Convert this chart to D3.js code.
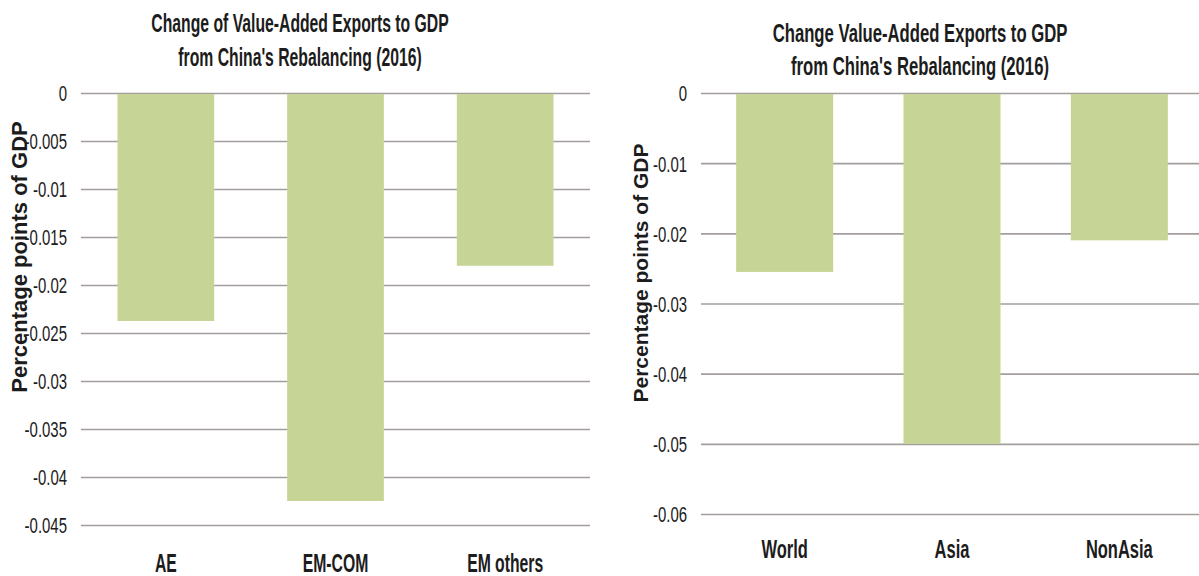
<!DOCTYPE html>
<html>
<head>
<meta charset="utf-8">
<script src="https://cdn.jsdelivr.net/npm/d3@7"></script>
<style>
  html, body { margin: 0; padding: 0; background: #fff; }
  svg { display: block; }
  text { font-family: "Liberation Sans", Arial, sans-serif; }
</style>
</head>
<body>
<svg id="chart" width="1199" height="576"></svg>
<script>
// Left panel: by country group
const groupCategories = ["AE", "EM-COM", "EM others"];
const groupValues = [-0.02375, -0.0425, -0.018];
const groupTicks = [0, -0.005, -0.01, -0.015, -0.02, -0.025, -0.03, -0.035, -0.04, -0.045];
const groupTickLabels = ["0", "-0.005", "-0.01", "-0.015", "-0.02", "-0.025", "-0.03", "-0.035", "-0.04", "-0.045"];
const groupTitle = ["Change of Value-Added Exports to GDP", "from China's Rebalancing (2016)"];

// Right panel: by region
const regionCategories = ["World", "Asia", "NonAsia"];
const regionValues = [-0.0255, -0.050, -0.021];
const regionTicks = [0, -0.01, -0.02, -0.03, -0.04, -0.05, -0.06];
const regionTickLabels = ["0", "-0.01", "-0.02", "-0.03", "-0.04", "-0.05", "-0.06"];
const regionTitle = ["Change Value-Added Exports to GDP", "from China's Rebalancing (2016)"];

const yAxisTitle = "Percentage points of GDP";

const BAR_COLOR = "#c6d596";
const GRID_COLOR = "#a39e9d";
const TEXT_COLOR = "#1c1c1c";
const NARROW = 0.63;      // horizontal squeeze for the condensed headings
const TICK_NARROW = 0.68; // horizontal squeeze for the tick numbers

const svg = d3.select("#chart");

// place a text horizontally condensed around its anchor point
function condensedAt(sel, x, y, s) {
  sel.attr("x", 0).attr("y", 0)
     .attr("transform", (d, i) => {
       const xx = typeof x === "function" ? x(d, i) : x;
       const yy = typeof y === "function" ? y(d, i) : y;
       return `translate(${xx},${yy}) scale(${s},1)`;
     });
}

function drawPanel(opt) {
  const g = svg.append("g");

  const x = d3.scaleBand()
    .domain(opt.categories)
    .range([opt.left, opt.right])
    .paddingInner(opt.padding)
    .paddingOuter(opt.padding / 2);

  const y = d3.scaleLinear()
    .domain([0, opt.min])
    .range([opt.top, opt.bottom]);

  // gridlines + tick labels
  const axis = d3.axisLeft(y)
    .tickValues(opt.ticks)
    .tickFormat((d, i) => opt.tickLabels[i])
    .tickSize(-(opt.right - opt.left))
    .tickPadding(opt.tickPad);

  const ax = g.append("g")
    .attr("transform", `translate(${opt.left},0)`)
    .call(axis);
  ax.select(".domain").remove();
  ax.selectAll(".tick line")
    .attr("stroke", GRID_COLOR)
    .attr("stroke-width", 1.7);
  ax.selectAll(".tick text")
    .attr("fill", TEXT_COLOR)
    .attr("font-size", 22)
    .attr("font-family", "'Liberation Sans', Arial, sans-serif")
    .attr("dy", "0.36em")
    .attr("x", -opt.tickPad / TICK_NARROW)
    .attr("transform", `scale(${TICK_NARROW},1)`);

  // bars
  g.append("g").selectAll("rect")
    .data(opt.categories.map((c, i) => ({ c, v: opt.values[i] })))
    .join("rect")
    .attr("x", d => x(d.c))
    .attr("width", x.bandwidth())
    .attr("y", d => y(0) + 1)
    .attr("height", d => y(d.v) - y(0) - 1)
    .attr("fill", BAR_COLOR);

  // category labels
  g.append("g").selectAll("text")
    .data(opt.categories)
    .join("text")
    .attr("text-anchor", "middle")
    .attr("font-size", 25)
    .attr("font-weight", "bold")
    .attr("fill", TEXT_COLOR)
    .text(d => d)
    .call(condensedAt, d => x(d) + x.bandwidth() / 2, opt.catY, opt.catScale);

  // title
  g.append("g").selectAll("text")
    .data(opt.title)
    .join("text")
    .attr("text-anchor", "middle")
    .attr("font-size", opt.titleSize)
    .attr("font-weight", "bold")
    .attr("fill", TEXT_COLOR)
    .text(d => d)
    .call(condensedAt, opt.titleX, (d, i) => opt.titleY + i * opt.titleGap, NARROW);

  // y-axis title
  g.append("text")
    .attr("transform", `translate(${opt.axisTitleX},${opt.axisTitleY}) rotate(-90)`)
    .attr("text-anchor", "middle")
    .attr("dy", "0.35em")
    .attr("font-size", opt.axisTitleSize)
    .attr("font-weight", "bold")
    .attr("fill", TEXT_COLOR)
    .text(yAxisTitle);
}

drawPanel({
  categories: groupCategories, values: groupValues,
  ticks: groupTicks, tickLabels: groupTickLabels, min: -0.045,
  left: 81, right: 590, top: 93, bottom: 525, padding: 0.43,
  tickPad: 14, catY: 572, catScale: 0.63,
  title: groupTitle, titleX: 300, titleY: 32, titleGap: 34, titleSize: 25,
  axisTitleX: 19, axisTitleY: 257, axisTitleSize: 22
});

drawPanel({
  categories: regionCategories, values: regionValues,
  ticks: regionTicks, tickLabels: regionTickLabels, min: -0.06,
  left: 701, right: 1203, top: 93, bottom: 514, padding: 0.42,
  tickPad: 14, catY: 558, catScale: 0.66,
  title: regionTitle, titleX: 920, titleY: 42, titleGap: 33, titleSize: 26.5,
  axisTitleX: 641, axisTitleY: 273, axisTitleSize: 21
});
</script>
</body>
</html>
